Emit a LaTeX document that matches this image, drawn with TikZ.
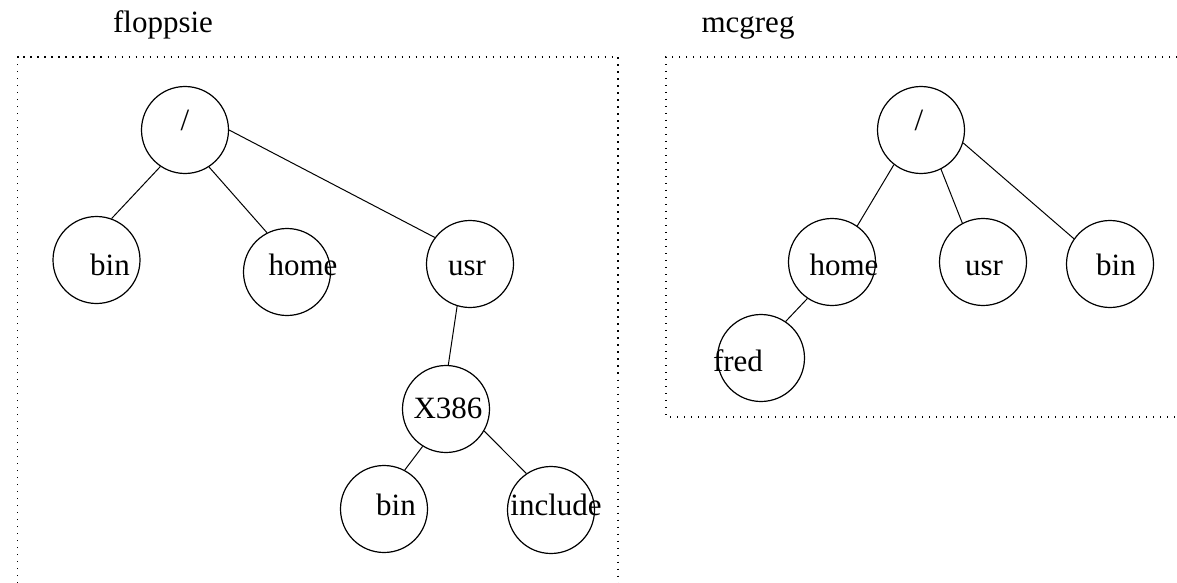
\documentclass[tikz,border=0pt]{standalone}
\usepackage{fontspec}
\setmainfont{Liberation Serif}
\usepackage{tikz}
\usetikzlibrary{positioning,shapes}
\tikzset{dir/.style={circle,draw,line width=0.6pt,minimum size=43.5pt,inner sep=0pt},
         lbl/.style={anchor=base,inner sep=0pt,font=\fontsize{15.5}{18}\selectfont},
         frame/.style={line width=0.7pt,dash pattern=on 0.7pt off 2.8pt},
         link/.style={-,line width=0.5pt}
}

\begin{document}
\begin{tikzpicture}[x=0.5pt,y=-0.5pt]
  \useasboundingbox (0,0) rectangle (1177,583);
  % floppsie
  \node[lbl] (floppsie) at (163,33) {floppsie};
  \draw[frame] (17.5,583) -- (17.5,57) -- (618,57) -- (618,583);
  \node[dir] (rootL) at (185,130) {};
  \node[dir] (binL)  at (96.5,260) {};
  \node[dir] (homeL) at (287,272) {};
  \node[dir] (usrL)  at (470,264) {};
  \node[dir] (xL)    at (446,409) {};
  \node[dir] (bintwoL) at (384,509) {};
  \node[dir] (incL)  at (551,510) {};
  \node[lbl] (rootL-t) at (185,131) {/};
  \node[lbl] (binL-t)  at (110,275) {bin};
  \node[lbl] (homeL-t) at (303,275) {home};
  \node[lbl] (usrL-t)  at (467,275) {usr};
  \node[lbl] (xL-t)    at (448,418) {X386};
  \node[lbl] (bintwoL-t) at (396,515) {bin};
  \node[lbl] (incL-t)  at (556,515) {include};
  \path[link] (rootL.236.7) edge (binL.70.3)
              (rootL.303)   edge (homeL.117.9)
              (rootL.0)     edge (usrL.143.4)
              (usrL.253.6)  edge (xL.87)
              (xL.238.3)    edge (bintwoL.62.7)
              (xL.330)      edge (incL.124.9);
  % mcgreg
  \node[lbl] (mcgreg) at (748,33) {mcgreg};
  \draw[frame] (1177,57) -- (666,57) -- (666,417) -- (1177,417);
  \node[dir] (rootR) at (921,130) {};
  \node[dir] (homeR) at (832,262) {};
  \node[dir] (usrR)  at (983,262) {};
  \node[dir] (binR)  at (1110,264) {};
  \node[dir] (fredR) at (761,358) {};
  \node[lbl] (rootR-t) at (919,131) {/};
  \node[lbl] (homeR-t) at (844,275) {home};
  \node[lbl] (usrR-t)  at (984,275) {usr};
  \node[lbl] (binR-t)  at (1116,275) {bin};
  \node[lbl] (fredR-t) at (738,371) {fred};
  \path[link] (rootR.232.9) edge (homeR.55.9)
              (rootR.297.8) edge (usrR.118.5)
              (rootR.343.2) edge (binR.145.6)
              (homeR.236.7) edge (fredR.56.3);
\end{tikzpicture}
\end{document}
